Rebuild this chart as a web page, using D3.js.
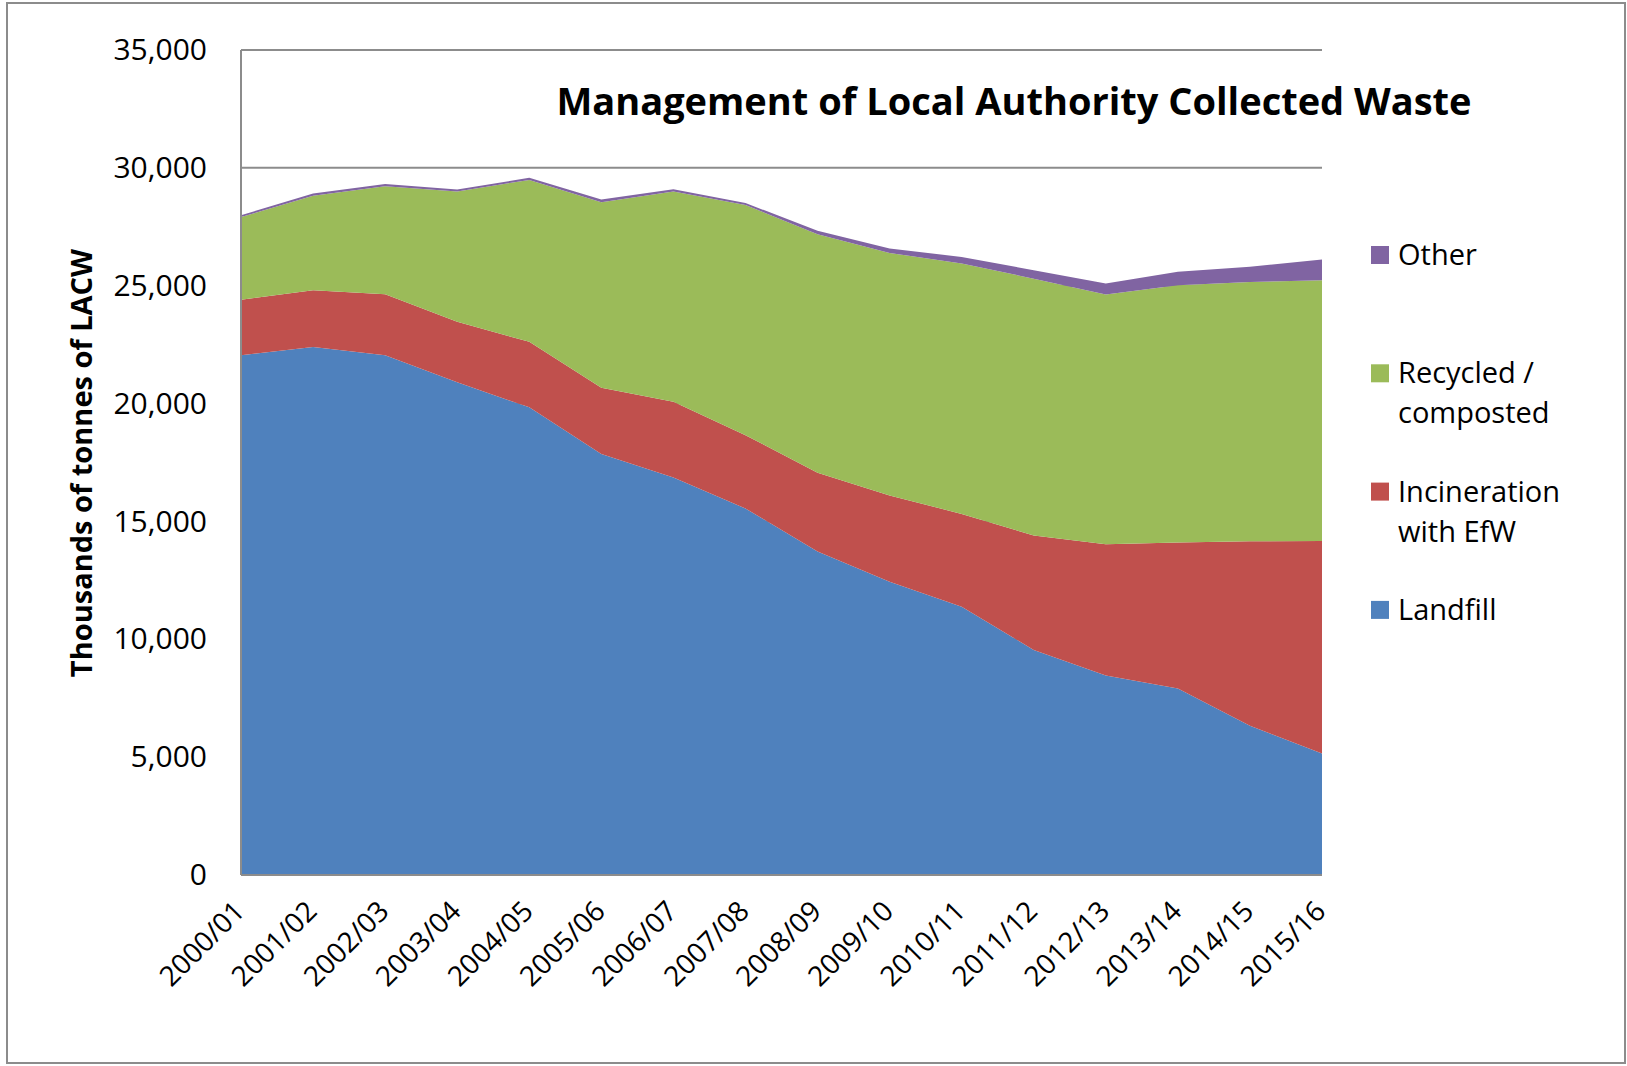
<!DOCTYPE html>
<html>
<head>
<meta charset="utf-8">
<script src="https://d3js.org/d3.v7.min.js"></script>
<style>
body { margin:0; background:#fff; }
svg { display:block; font-family:"Open Sans", sans-serif; }
</style>
</head>
<body>
<svg id="chart" width="1627" height="1066"></svg>
<script>

// Données (milliers de tonnes)
var years = ["2000/01","2001/02","2002/03","2003/04","2004/05","2005/06","2006/07","2007/08",
             "2008/09","2009/10","2010/11","2011/12","2012/13","2013/14","2014/15","2015/16"];
var landfill     = [22050,22400,22050,20900,19840,17860,16860,15550,13720,12440,11380,9550,8460,7910,6330,5150];
var incineration = [2350,2410,2590,2570,2780,2810,3220,3110,3340,3660,3940,4850,5570,6200,7830,9020];
var recycled     = [3510,4010,4580,5530,6870,7870,8920,9760,10120,10290,10620,10900,10600,10910,11000,11060];
var other        = [80,90,90,80,90,120,90,90,150,190,280,360,460,570,640,880];

var keys = ["landfill","incineration","recycled","other"];
var colors = ["#4F81BD","#C0504D","#9BBB59","#8064A2"];
// Légende dans l'ordre affiché (du haut vers le bas)
var legend_labels = [["Other"],["Recycled /","composted"],["Incineration","with EfW"],["Landfill"]];
var legend_colors = ["#8064A2","#9BBB59","#C0504D","#4F81BD"];
var y_ticks = d3.range(0, 35001, 5000);
var title = "Management of Local Authority Collected Waste";
var y_title = "Thousands of tonnes of LACW";

function draw_chart(){

    var svg = d3.select("#chart");
    // zone du graphique (attention: "top" est réservé par window)
    var plot_left = 241, plot_right = 1322, plot_top = 50, plot_bottom = 875;

    // table pour d3.stack
    var table = years.map(function(y, i){
        return {year: y, landfill: landfill[i], incineration: incineration[i], recycled: recycled[i], other: other[i]};
    });

    var x = d3.scalePoint().domain(years).range([plot_left, plot_right]);
    var y = d3.scaleLinear().domain([0, 35000]).range([plot_bottom, plot_top]);

    // cadre extérieur
    svg.append("rect")
       .attr("x", 7).attr("y", 3)
       .attr("width", 1618).attr("height", 1060)
       .attr("fill", "#fff")
       .attr("stroke", "#8c8c8c")
       .attr("stroke-width", 2);

    // lignes de grille (cachées par les aires sauf en haut)
    svg.selectAll(".grid")
       .data(y_ticks.slice(1))
       .enter()
       .append("line")
       .attr("class", "grid")
       .attr("x1", plot_left).attr("x2", plot_right)
       .attr("y1", function(d){ return y(d); })
       .attr("y2", function(d){ return y(d); })
       .attr("stroke", "#8c8c8c")
       .attr("stroke-width", 2);

    // aires empilées
    var stacked = d3.stack().keys(keys)(table);
    var area = d3.area()
        .x(function(d){ return x(d.data.year); })
        .y0(function(d){ return y(d[0]); })
        .y1(function(d){ return y(d[1]); });

    svg.selectAll(".layer")
       .data(stacked)
       .enter()
       .append("path")
       .attr("class", "layer")
       .attr("d", area)
       .attr("fill", function(d, i){ return colors[i]; });

    // axes (lignes)
    svg.append("line")
       .attr("x1", plot_left).attr("x2", plot_left)
       .attr("y1", y(0)).attr("y2", y(35000))
       .attr("stroke", "#8c8c8c").attr("stroke-width", 2);
    svg.append("line")
       .attr("x1", plot_left).attr("x2", plot_right)
       .attr("y1", y(0)).attr("y2", y(0))
       .attr("stroke", "#8c8c8c").attr("stroke-width", 2);

    // axe Y
    var y_axis = svg.append("g")
        .attr("transform", "translate(" + plot_left + ",0)")
        .call(d3.axisLeft(y).tickValues(y_ticks).tickFormat(d3.format(",")).tickSize(0).tickPadding(34));
    y_axis.select(".domain").remove();
    y_axis.selectAll("text")
          .attr("font-family", "Open Sans")
          .attr("font-size", 30)
          .attr("fill", "#000");

    // axe X, étiquettes à 45 degrés
    var x_axis = svg.append("g")
        .attr("transform", "translate(0," + plot_bottom + ")")
        .call(d3.axisBottom(x).tickSize(0));
    x_axis.select(".domain").remove();
    x_axis.selectAll("text")
          .attr("font-family", "Open Sans")
          .attr("font-size", 28)
          .attr("fill", "#000")
          .attr("text-anchor", "end")
          .attr("x", 0).attr("y", 0)
          .attr("dy", "0.35em")
          .attr("transform", "translate(-2,31) rotate(-45)");

    // titre
    svg.append("text")
       .attr("x", 1014).attr("y", 115)
       .attr("text-anchor", "middle")
       .attr("font-size", 38)
       .attr("font-weight", "bold")
       .text(title);

    // titre de l'axe Y
    svg.append("text")
       .attr("transform", "translate(92,463) rotate(-90)")
       .attr("text-anchor", "middle")
       .attr("font-size", 29)
       .attr("font-weight", "bold")
       .text(y_title);

    // légende
    var legend = svg.selectAll(".legend")
        .data(legend_labels)
        .enter()
        .append("g")
        .attr("class", "legend")
        .attr("transform", function(d, i){ return "translate(1371," + (246 + i*118.3) + ")"; });

    legend.append("rect")
          .attr("width", 18).attr("height", 18)
          .attr("fill", function(d, i){ return legend_colors[i]; });

    legend.each(function(lines){
        var t = d3.select(this).append("text")
                  .attr("font-size", 29)
                  .attr("fill", "#000");
        lines.forEach(function(line, j){
            t.append("tspan")
             .attr("x", 27)
             .attr("y", 19 + j*40)
             .text(line);
        });
    });
};

draw_chart();

</script>
</body>
</html>
